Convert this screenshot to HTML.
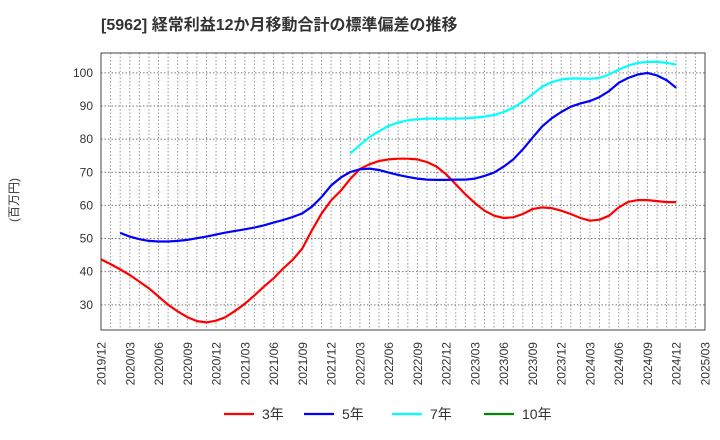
<!DOCTYPE html>
<html><head><meta charset="utf-8"><style>
body{margin:0;background:#fff;font-family:"Liberation Sans","Noto Sans CJK JP",sans-serif;}
svg{display:block}
</style></head><body>
<svg id="chart" width="720" height="440" xmlns="http://www.w3.org/2000/svg" font-family="Liberation Sans, Noto Sans CJK JP, sans-serif">
<text x="101" y="30" font-size="16" font-weight="bold" fill="#333">[5962]  経常利益12か月移動合計の標準偏差の推移</text>
<text transform="translate(18,200) rotate(-90)" text-anchor="middle" font-size="12" fill="#333">(百万円)</text>
<g id="grid"></g>
<g id="series"></g>
<g id="axes"></g>
<g id="legend"></g>
</svg>
<script>
const xTickLabels=["2019/12","2020/03","2020/06","2020/09","2020/12","2021/03","2021/06","2021/09","2021/12","2022/03","2022/06","2022/09","2022/12","2023/03","2023/06","2023/09","2023/12","2024/03","2024/06","2024/09","2024/12","2025/03"];
const yTicks=[30,40,50,60,70,80,90,100];
const red3=[43.7,42.3,40.7,39,37,35,32.5,30,28,26.3,25.1,24.7,25.2,26.3,28.2,30.3,32.8,35.5,38,41,43.6,47,52.5,57.5,61.5,64.4,68,71,72.4,73.4,73.9,74.1,74.1,73.9,73.1,71.7,69.4,66.4,63.4,60.7,58.4,56.9,56.2,56.4,57.4,58.9,59.4,59.2,58.4,57.4,56.2,55.4,55.7,56.9,59.4,61.1,61.6,61.6,61.3,61,61];
const blue5Start=2;
const blue5=[51.7,50.6,49.8,49.3,49.1,49.1,49.3,49.6,50.1,50.6,51.2,51.8,52.3,52.8,53.3,54,54.8,55.6,56.5,57.6,59.6,62.5,66,68.4,70.1,70.9,71.1,70.7,69.9,69.2,68.6,68.1,67.8,67.7,67.7,67.8,67.8,68.1,68.9,69.9,71.7,73.9,76.9,80.4,83.8,86.3,88.2,89.8,90.8,91.5,92.7,94.5,97,98.5,99.5,100,99.2,97.8,95.5];
const cyan7Start=26;
const cyan7=[75.7,78.2,80.6,82.4,84,85,85.7,86,86.2,86.2,86.2,86.2,86.3,86.5,86.8,87.3,88.2,89.5,91.3,93.5,95.8,97.2,98,98.3,98.3,98.2,98.5,99.5,101,102.2,103,103.3,103.3,103,102.5];
const green10=[];
const L=101,R=705,T=53,B=330,months=63,yMin=22.4,yMax=106;
const xs=i=>L+(R-L)*i/months;
const ys=v=>B-(v-yMin)/(yMax-yMin)*(B-T);
const NS="http://www.w3.org/2000/svg";
function mk(tag,attrs,parent){const e=document.createElementNS(NS,tag);for(const k in attrs)e.setAttribute(k,attrs[k]);parent.appendChild(e);return e;}
const grid=document.getElementById('grid'),axes=document.getElementById('axes'),ser=document.getElementById('series'),leg=document.getElementById('legend');
for(let m=1;m<months;m++){const l=mk('line',{x1:xs(m),x2:xs(m),y1:T,y2:B,stroke:'#999','stroke-dasharray':'1.5,2','stroke-width':1},grid);

}
yTicks.forEach(v=>{const l=mk('line',{x1:L,x2:R,y1:ys(v),y2:ys(v),stroke:'#777','stroke-dasharray':'1.5,2','stroke-width':1},grid);


const t=mk('text',{x:L-8,y:ys(v)+4,'text-anchor':'end','font-size':12,fill:'#333'},axes);t.textContent=v;

});
xTickLabels.forEach((s,i)=>{const x=xs(i*3);const t=mk('text',{transform:`translate(${x+4.5},${B+12}) rotate(-90)`,'text-anchor':'end','font-size':12,fill:'#333'},axes);t.textContent=s;

});
const fr=mk('rect',{x:L,y:T,width:R-L,height:B-T,fill:'none',stroke:'#444','stroke-width':1},axes);


function line(arr,start,color,name){if(!arr.length)return;const d=arr.map((v,i)=>(i?'L':'M')+xs(start+i).toFixed(1)+','+ys(v).toFixed(1)).join('');
const p=mk('path',{d:d,fill:'none',stroke:color,'stroke-width':2.2,'stroke-linejoin':'round'},ser);

}
line(red3,0,'#f00','line-3yr');line(blue5,blue5Start,'#00f','line-5yr');line(cyan7,cyan7Start,'#0ff','line-7yr');line(green10,0,'#080','line-10yr');
[['3年','#f00',224],['5年','#00f',304],['7年','#0ff',392],['10年','#080',484]].forEach(([lab,c,x])=>{
const g=mk('g',{},leg);


mk('line',{x1:x,x2:x+30,y1:414,y2:414,stroke:c,'stroke-width':2.2},g);
const t=mk('text',{x:x+38,y:419,'font-size':14,fill:'#333'},g);t.textContent=lab;});
</script>
</body></html>
